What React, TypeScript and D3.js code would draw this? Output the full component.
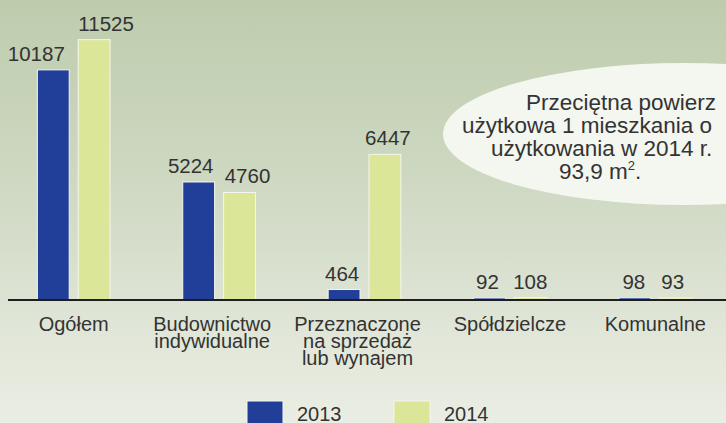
import React from "react";
import * as d3 from "d3";

const categories: string[][] = [
  ["Ogółem"],
  ["Budownictwo", "indywidualne"],
  ["Przeznaczone", "na sprzedaż", "lub wynajem"],
  ["Spółdzielcze"],
  ["Komunalne"],
];
const seriesNames = ["2013", "2014"];
const values2013 = [10187, 5224, 464, 92, 98];
const values2014 = [11525, 4760, 6447, 108, 93];
const seriesColors = ["#213F99", "#DCE699"];
const noteLines = [
  "Przeciętna powierz",
  "użytkowa 1 mieszkania o",
  "użytkowania w 2014 r.",
  "93,9 m",
];

const W = 726;
const H = 423;
const FONT = "Arial, 'Liberation Sans', Helvetica, sans-serif";

export default function App() {
  const keys = categories.map((c) => c.join(" "));
  const x0 = d3.scaleBand<string>().domain(keys).range([1, 728]).paddingInner(0.5).paddingOuter(0.25);
  const x1 = d3.scaleBand<string>().domain(seriesNames).range([0, x0.bandwidth()]).paddingInner(0.22).paddingOuter(0);
  const y = d3.scaleLinear().domain([0, 13280]).range([300, 0]);
  const series = [values2013, values2014];

  // layout tweaks: horizontal nudges of value labels (per category, per series)
  const labelNudge = [
    [-17, 12],
    [-8, 8],
    [-2, 3],
    [-2, 0],
    [-1, -3],
  ];

  const noteX = [526, 462, 491, 559];
  const noteY = [110, 133, 156, 179];

  return (
    <svg
      width={W}
      height={H}
      viewBox={`0 0 ${W} ${H}`}
      style={{ position: "fixed", left: 0, top: 0, display: "block" }}
      fontFamily={FONT}
    >
      <defs>
        <linearGradient id="bg" x1="0" y1="0" x2="0" y2="1">
          <stop offset="0" stopColor="#BECCAD" />
          <stop offset="0.45" stopColor="#CFD9C3" />
          <stop offset="0.75" stopColor="#DFE5D6" />
          <stop offset="1" stopColor="#EAEDE3" />
        </linearGradient>
        <clipPath id="clip">
          <rect x={0} y={0} width={W} height={H} />
        </clipPath>
      </defs>
      <rect x={0} y={0} width={W} height={H} fill="url(#bg)" />
      <g clipPath="url(#clip)">
        <ellipse cx={684} cy={134} rx={241} ry={71} fill="#F4F6F0" />
        {noteLines.map((t, i) => (
          <text key={i} x={noteX[i]} y={noteY[i]} fontSize={22.5} fill="#333">
            {t}
            {i === 3 ? (
              <>
                <tspan fontSize={13} dy={-9}>2</tspan>
                <tspan dy={9}>.</tspan>
              </>
            ) : null}
          </text>
        ))}

        {keys.map((k, ci) => (
          <g key={k} transform={`translate(${x0(k)},0)`}>
            {seriesNames.map((s, si) => {
              const v = series[si][ci];
              const bx = x1(s)!;
              const top = y(v);
              return (
                <g key={s}>
                  <rect
                    x={bx}
                    y={top}
                    width={x1.bandwidth()}
                    height={y(0) - top}
                    fill={seriesColors[si]}
                    stroke="#F4F6EE"
                    strokeWidth={1}
                  />
                  <text
                    x={bx + x1.bandwidth() / 2 + labelNudge[ci][si]}
                    y={top - 9}
                    textAnchor="middle"
                    fontSize={20.5}
                    fill="#333"
                  >
                    {v}
                  </text>
                </g>
              );
            })}
          </g>
        ))}

        <line x1={8} x2={W} y1={y(0)} y2={y(0)} stroke="#1E1E1E" strokeWidth={2} />

        {categories.map((lines, ci) => {
          const cx = x0(keys[ci])! + x0.bandwidth() / 2 - (lines.length > 1 ? 7 : 0);
          return (
            <text key={ci} textAnchor="middle" fontSize={20} fill="#333">
              {lines.map((l, li) => (
                <tspan key={li} x={cx} y={331 + li * 17}>
                  {l}
                </tspan>
              ))}
            </text>
          );
        })}

        {seriesNames.map((s, si) => {
          const lx = 247 + si * 147;
          return (
            <g key={s}>
              <rect x={lx} y={401} width={36} height={24} fill={seriesColors[si]} stroke="#F4F6EE" strokeWidth={1} />
              <text x={lx + 50} y={421} fontSize={20} fill="#333">
                {s}
              </text>
            </g>
          );
        })}
      </g>
    </svg>
  );
}
